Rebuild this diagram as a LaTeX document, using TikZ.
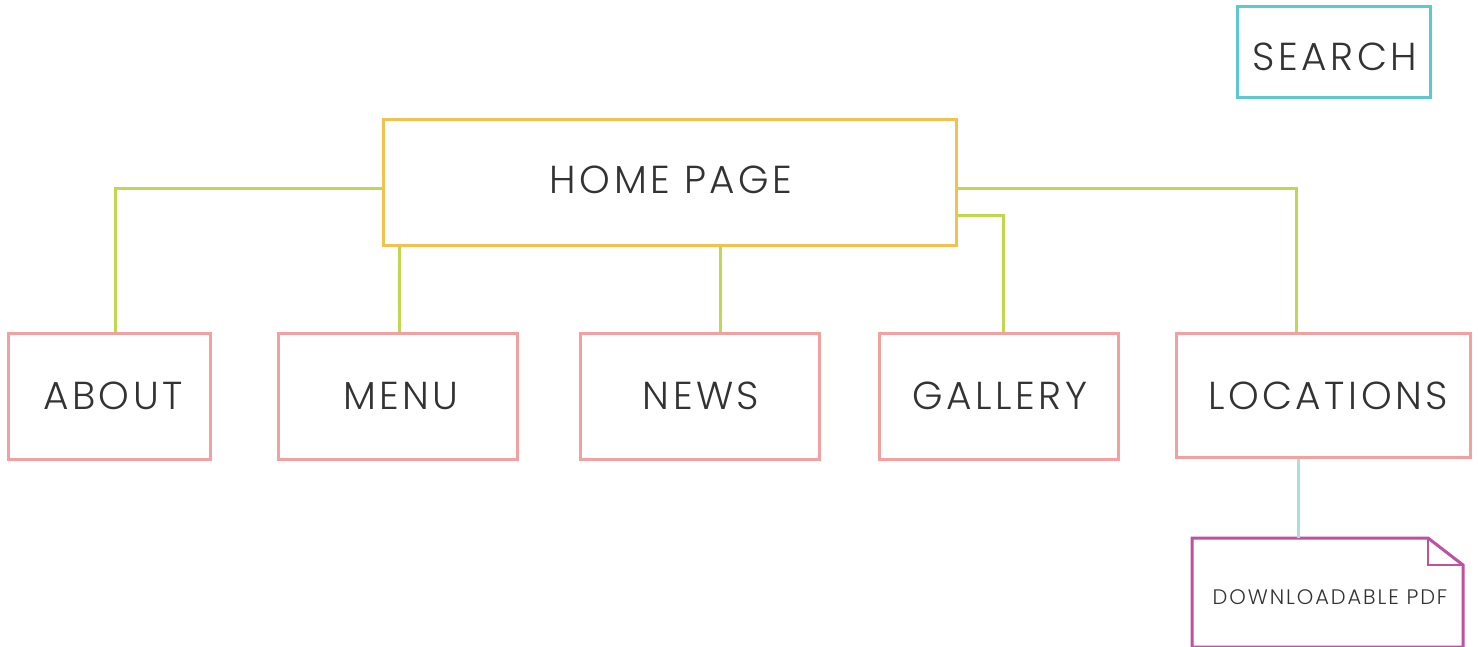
\documentclass[tikz,border=0pt]{standalone}
\usepackage{fontspec}
\setmainfont{Poppins}
\newfontfamily\lbl[UprightFont=* Light, LetterSpace=9]{Poppins}
\definecolor{cyanb}{HTML}{5BC8D2}
\definecolor{yellowb}{HTML}{F2C14E}
\definecolor{pinkb}{HTML}{F4A0A0}
\definecolor{greenl}{HTML}{C0D850}
\definecolor{tealL}{HTML}{A8E0DC}
\definecolor{purpleb}{HTML}{C050A0}
\definecolor{txt}{HTML}{333333}
\tikzset{
  box/.style={draw=#1, line width=1.5pt, inner sep=0pt, text=txt},
  conn/.style={draw=greenl, line width=1.5pt},
  big/.style={font=\lbl\fontsize{19.5}{24}\selectfont},
}
\begin{document}
\begin{tikzpicture}[x=0.5pt,y=-0.5pt]
\useasboundingbox (0,0) rectangle (1478,647);
\clip (0,0) rectangle (1478,647);
\fill[white] (0,0) rectangle (1478,647);
\node[box=cyanb, minimum width=96.5pt, minimum height=45.5pt] (search) at (1333.5,52.5) {};
\node[text=txt, big] (searcht) at (1335,57) {SEARCH};
\node[box=yellowb, minimum width=286.5pt, minimum height=62.5pt] (home) at (669.5,182.5) {};
\node[text=txt, big] (homet) at (671,180) {HOME PAGE};
\node[box=pinkb, minimum width=101pt, minimum height=63pt] (about) at (109,396) {};
\node[text=txt, big] (aboutt) at (113,396) {ABOUT};
\node[box=pinkb, minimum width=119.5pt, minimum height=63pt] (menu) at (397.5,396) {};
\node[text=txt, big] (menut) at (401,396) {MENU};
\node[box=pinkb, minimum width=119.5pt, minimum height=63pt] (news) at (699.5,396) {};
\node[text=txt, big] (newst) at (701,396) {NEWS};
\node[box=pinkb, minimum width=119.5pt, minimum height=63pt] (gallery) at (998.5,396) {};
\node[text=txt, big] (galleryt) at (1000,396) {GALLERY};
\node[box=pinkb, minimum width=147pt, minimum height=62pt] (loc) at (1323,395) {};
\node[text=txt, big] (loct) at (1328,396) {LOCATIONS};
% PDF doc shape
\coordinate (pdfa) at (1192,647);
\coordinate (pdfb) at (1192,538);
\coordinate (pdfc) at (1428,538);
\coordinate (pdfd) at (1463,565);
\coordinate (pdfe) at (1463,647);
\draw[purpleb, line width=1.5pt, line join=miter] (pdfa) -- (pdfb) -- (pdfc) -- (pdfd) -- (pdfe) -- cycle;
\draw[purpleb, line width=1.2pt] (pdfc) -- (1428,565) -- (pdfd);
\node[text=txt, font=\lbl\fontsize{10.5}{13}\selectfont] (pdf) at (1330,597) {DOWNLOADABLE PDF};
% connectors
\coordinate (c1) at (115,188);
\draw[conn] (home.west |- c1) -- (c1) -- (c1 |- about.north);
\coordinate (m1) at (399,245);
\draw[conn] (home.south -| m1) -- (m1 |- menu.north);
\coordinate (n1) at (720,245);
\draw[conn] (home.south -| n1) -- (n1 |- news.north);
\coordinate (g1) at (1003,215);
\draw[conn] (home.east |- g1) -- (g1) -- (g1 |- gallery.north);
\coordinate (l1) at (1296,188);
\draw[conn] (home.east |- l1) -- (l1) -- (l1 |- loc.north);
\coordinate (p1) at (1298,538);
\draw[tealL, line width=1.5pt] (loc.south -| p1) -- (p1);
\end{tikzpicture}
\end{document}
